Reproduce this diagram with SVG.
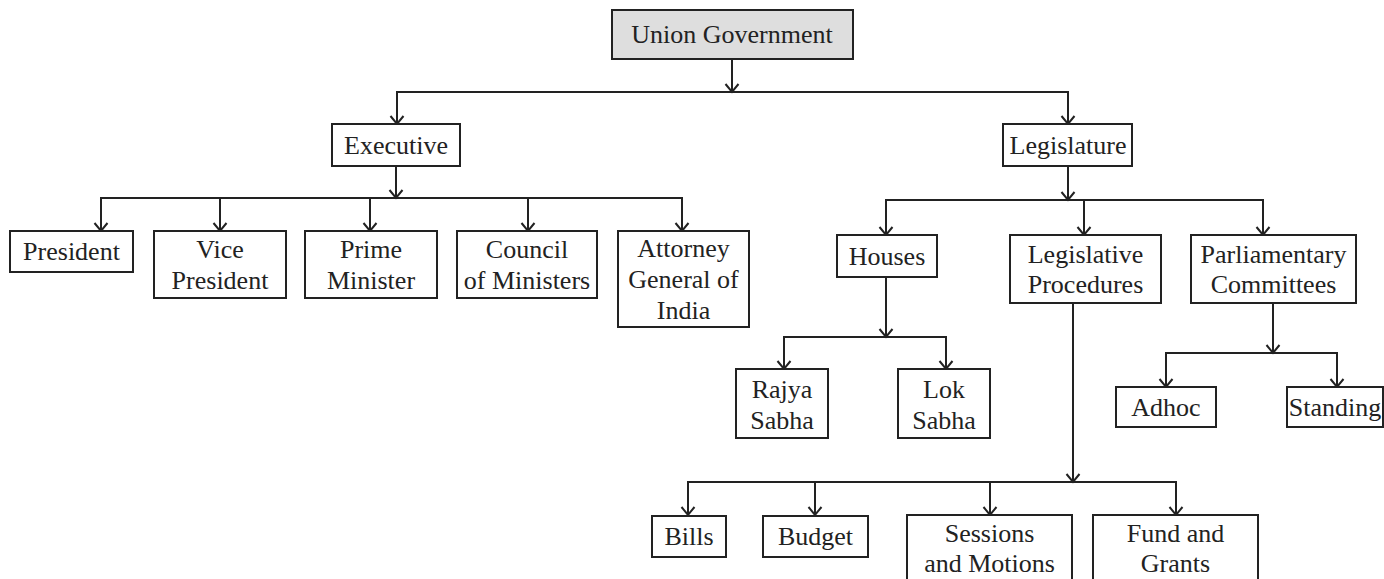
<svg xmlns="http://www.w3.org/2000/svg" width="1384" height="579" viewBox="0 0 1384 579">
<defs>
<marker id="arr" viewBox="-9 -8 11 16" markerWidth="11" markerHeight="16" refX="0" refY="0" orient="auto" markerUnits="userSpaceOnUse">
<path d="M-8,-6.5 L0,0 L-8,6.5" fill="none" stroke="#222" stroke-width="2"/>
</marker>
</defs>
<style>
rect{fill:#fff;stroke:#222;stroke-width:2}
#n-union rect{fill:#dedede}
text{font-family:Liberation Serif,Tinos,Times New Roman,Times,DejaVu Serif,Noto Serif,serif;font-size:26px;fill:#222;text-anchor:middle}
.c line,.c path{stroke:#222;stroke-width:2;fill:none}
.a{marker-end:url(#arr)}
</style>
<rect x="0" y="0" width="1384" height="579" style="fill:#fff;stroke:none"/>
<g class="c" id="connectors">
<line class="a" x1="732" y1="59" x2="732" y2="92"/>
<path d="M397,124 V92 H1068 V124"/>
<line class="a" x1="397" y1="100" x2="397" y2="124"/>
<line class="a" x1="1068" y1="100" x2="1068" y2="124"/>
<line class="a" x1="396" y1="166" x2="396" y2="198"/>
<path d="M101,231 V198 H682 V231"/>
<line class="a" x1="101" y1="205" x2="101" y2="231"/>
<line class="a" x1="220" y1="198" x2="220" y2="231"/>
<line class="a" x1="370" y1="198" x2="370" y2="231"/>
<line class="a" x1="528" y1="198" x2="528" y2="231"/>
<line class="a" x1="682" y1="205" x2="682" y2="231"/>
<line class="a" x1="1068" y1="166" x2="1068" y2="200"/>
<path d="M886,235 V200 H1263 V235"/>
<line class="a" x1="886" y1="207" x2="886" y2="235"/>
<line class="a" x1="1084" y1="200" x2="1084" y2="235"/>
<line class="a" x1="1263" y1="207" x2="1263" y2="235"/>
<line class="a" x1="886" y1="277" x2="886" y2="337"/>
<path d="M784,369 V337 H946 V369"/>
<line class="a" x1="784" y1="344" x2="784" y2="369"/>
<line class="a" x1="946" y1="344" x2="946" y2="369"/>
<line class="a" x1="1073" y1="303" x2="1073" y2="482"/>
<path d="M688,515 V482 H1176 V515"/>
<line class="a" x1="688" y1="489" x2="688" y2="515"/>
<line class="a" x1="815" y1="482" x2="815" y2="515"/>
<line class="a" x1="990" y1="482" x2="990" y2="515"/>
<line class="a" x1="1176" y1="489" x2="1176" y2="515"/>
<line class="a" x1="1273" y1="303" x2="1273" y2="353"/>
<path d="M1166,387 V353 H1337 V387"/>
<line class="a" x1="1166" y1="360" x2="1166" y2="387"/>
<line class="a" x1="1337" y1="360" x2="1337" y2="387"/>
</g>
<g id="nodes">
<g id="n-union"><rect x="612" y="10" width="241" height="49"/><text x="732" y="43">Union Government</text></g>
<g id="n-executive"><rect x="332" y="124" width="128" height="42"/><text x="396" y="154">Executive</text></g>
<g id="n-legislature"><rect x="1003" y="124" width="129" height="42"/><text x="1068" y="154">Legislature</text></g>
<g id="n-president"><rect x="10" y="231" width="123" height="41"/><text x="71.5" y="260">President</text></g>
<g id="n-vice"><rect x="154" y="231" width="132" height="67"/><text x="220" y="258">Vice</text><text x="220" y="289">President</text></g>
<g id="n-pm"><rect x="305" y="231" width="132" height="67"/><text x="371" y="258">Prime</text><text x="371" y="289">Minister</text></g>
<g id="n-council"><rect x="457" y="231" width="140" height="67"/><text x="527" y="258">Council</text><text x="527" y="289">of Ministers</text></g>
<g id="n-attorney"><rect x="618" y="231" width="131" height="96"/><text x="683.5" y="257">Attorney</text><text x="683.5" y="288">General of</text><text x="683.5" y="319">India</text></g>
<g id="n-houses"><rect x="837" y="235" width="100" height="42"/><text x="887" y="265">Houses</text></g>
<g id="n-procedures"><rect x="1010" y="235" width="151" height="68"/><text x="1085.5" y="263">Legislative</text><text x="1085.5" y="293">Procedures</text></g>
<g id="n-committees"><rect x="1191" y="235" width="165" height="68"/><text x="1273.5" y="263">Parliamentary</text><text x="1273.5" y="293">Committees</text></g>
<g id="n-rajya"><rect x="736" y="369" width="92" height="69"/><text x="782" y="398">Rajya</text><text x="782" y="429">Sabha</text></g>
<g id="n-lok"><rect x="898" y="369" width="92" height="69"/><text x="944" y="398">Lok</text><text x="944" y="429">Sabha</text></g>
<g id="n-adhoc"><rect x="1116" y="387" width="100" height="40"/><text x="1166" y="416">Adhoc</text></g>
<g id="n-standing"><rect x="1287" y="387" width="96" height="40"/><text x="1335" y="416">Standing</text></g>
<g id="n-bills"><rect x="652" y="516" width="74" height="41"/><text x="689" y="545">Bills</text></g>
<g id="n-budget"><rect x="763" y="516" width="105" height="41"/><text x="815.5" y="545">Budget</text></g>
<g id="n-sessions"><rect x="907" y="515" width="165" height="80"/><text x="989.5" y="542">Sessions</text><text x="989.5" y="572">and Motions</text></g>
<g id="n-fund"><rect x="1093" y="515" width="165" height="80"/><text x="1175.5" y="542">Fund and</text><text x="1175.5" y="572">Grants</text></g>
</g>
</svg>
